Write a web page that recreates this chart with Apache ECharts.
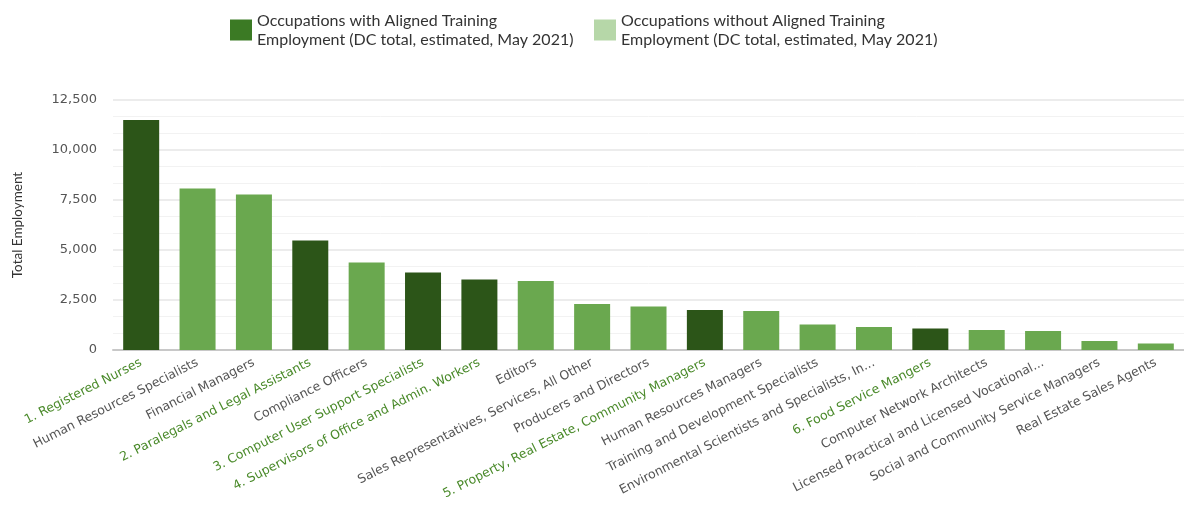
<!DOCTYPE html>
<html>
<head>
<meta charset="utf-8">
<script src="https://cdn.jsdelivr.net/npm/echarts@6/dist/echarts.min.js"></script>
<style>html,body{margin:0;padding:0;background:#fff}#c{width:1184px;height:510px}</style>
</head>
<body>
<div id="c"></div>
<script>
const categories = [
  "1. Registered Nurses",
  "Human Resources Specialists",
  "Financial Managers",
  "2. Paralegals and Legal Assistants",
  "Compliance Officers",
  "3. Computer User Support Specialists",
  "4. Supervisors of Office and Admin. Workers",
  "Editors",
  "Sales Representatives, Services, All Other",
  "Producers and Directors",
  "5. Property, Real Estate, Community Managers",
  "Human Resources Managers",
  "Training and Development Specialists",
  "Environmental Scientists and Specialists, In...",
  "6. Food Service Mangers",
  "Computer Network Architects",
  "Licensed Practical and Licensed Vocational...",
  "Social and Community Service Managers",
  "Real Estate Sales Agents"
];
const aligned = [11500, null, null, 5480, null, 3870, 3530, null, null, null, 2000, null, null, null, 1080, null, null, null, null];
const notAligned = [null, 8080, 7780, null, 4380, null, null, 3450, 2300, 2170, null, 1950, 1280, 1150, null, 1000, 950, 450, 330];
const seriesNames = [
  "Occupations with Aligned Training\nEmployment (DC total, estimated, May 2021)",
  "Occupations without Aligned Training\nEmployment (DC total, estimated, May 2021)"
];
const yTicks = [0, 2500, 5000, 7500, 10000, 12500];

const chart = echarts.init(document.getElementById('c'));
const legendText = {color: '#333', fontSize: 16, fontFamily: 'Lato', lineHeight: 19};
chart.setOption({
  animation: false,
  legend: [
    {left: 225, top: 6, icon: 'rect', itemWidth: 22, itemHeight: 21, itemGap: 8, textStyle: legendText,
     data: [{name: seriesNames[0], itemStyle: {color: '#3b7a24'}}]},
    {left: 589, top: 6, icon: 'rect', itemWidth: 22, itemHeight: 21, itemGap: 8, textStyle: legendText,
     data: [{name: seriesNames[1], itemStyle: {color: '#b6d7a8'}}]}
  ],
  grid: {left: 113, right: -2, top: 100, bottom: 160},
  xAxis: {
    type: 'category',
    data: categories,
    axisTick: {show: false},
    axisLine: {lineStyle: {color: '#c8c8c8', width: 2}},
    axisLabel: {
      rotate: 27, interval: 0, margin: 12, fontSize: 12.5, fontFamily: 'DejaVu Sans',
      color: function (v, i) { return aligned[i] != null ? '#4a8a2a' : '#555'; }
    }
  },
  yAxis: {
    type: 'value', min: yTicks[0], max: yTicks[yTicks.length - 1], interval: 2500,
    name: 'Total Employment', nameLocation: 'middle', nameGap: 88, nameRotate: 90,
    nameTextStyle: {color: '#333', fontSize: 13.5, fontFamily: 'Lato'},
    axisLine: {show: false}, axisTick: {show: false},
    axisLabel: {margin: 16, color: '#555', fontSize: 13, fontFamily: 'DejaVu Sans',
      formatter: function (v) { return v.toLocaleString('en-US'); }},
    splitLine: {lineStyle: {color: '#e6e6e6', width: 1.5}},
    minorTick: {show: false, splitNumber: 3},
    minorSplitLine: {show: true, lineStyle: {color: '#f2f2f2', width: 1}}
  },
  series: [
    {name: seriesNames[0], type: 'bar', stack: 's', data: aligned, barWidth: 36, itemStyle: {color: '#2c5518'}},
    {name: seriesNames[1], type: 'bar', stack: 's', data: notAligned, barWidth: 36, itemStyle: {color: '#6aa84f'}}
  ]
});
</script>
</body>
</html>
